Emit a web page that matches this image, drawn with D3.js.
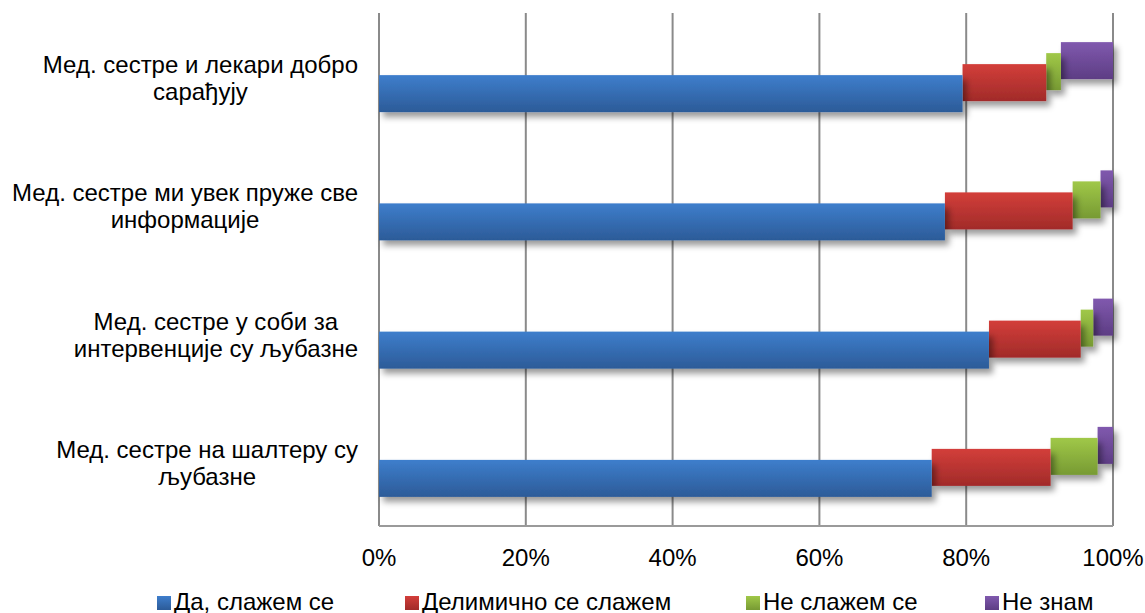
<!DOCTYPE html>
<html>
<head>
<meta charset="utf-8">
<script src="https://cdn.jsdelivr.net/npm/d3@7"></script>
<style>
  body { margin: 0; background: #fff; }
  text { font-family: "Liberation Sans", Arial, sans-serif; fill: #000; }
</style>
</head>
<body>
<script>
// categories, top to bottom (each label split into its lines)
var categories = [
  ["Мед. сестре и лекари добро", "сарађују"],
  ["Мед. сестре ми увек пруже све", "информације"],
  ["Мед. сестре у соби за", "интервенције су љубазне"],
  ["Мед. сестре на шалтеру су", "љубазне"]
];
var seriesNames = ["Да, слажем се", "Делимично се слажем", "Не слажем се", "Не знам"];
// percentages per category, same order as categories
var agree    = [79.5, 77.1, 83.1, 75.3];
var partly   = [11.4, 17.4, 12.5, 16.2];
var disagree = [2.0, 3.8, 1.7, 6.4];
var dontKnow = [7.1, 1.7, 2.7, 2.1];
var tickValues = [0, 20, 40, 60, 80, 100];

var width = 1145, height = 613;
var plotLeft = 379, plotRight = 1113, plotTop = 13, plotBottom = 526;
var depth = 11; // each series sits a little further back
var fontSize = "24px";

var colors = [
  ["#3e7ecc", "#2c5b98"],
  ["#d33e3a", "#a12b29"],
  ["#a0c848", "#779a33"],
  ["#8059ae", "#5d3d84"]
];

var svg = d3.select("body").append("svg")
  .attr("width", width)
  .attr("height", height);

var defs = svg.append("defs");
colors.forEach(function (c, i) {
  var g = defs.append("linearGradient")
    .attr("id", "grad" + i)
    .attr("x1", 0).attr("y1", 0).attr("x2", 0).attr("y2", 1);
  g.append("stop").attr("offset", "0%").attr("stop-color", c[0]);
  g.append("stop").attr("offset", "100%").attr("stop-color", c[1]);
});
defs.append("filter").attr("id", "shadow")
  .attr("x", "-10%").attr("y", "-30%").attr("width", "130%").attr("height", "180%")
  .append("feDropShadow")
  .attr("dx", 4).attr("dy", 5).attr("stdDeviation", 3)
  .attr("flood-color", "#000").attr("flood-opacity", 0.4);

var x = d3.scaleLinear().domain([0, 100]).range([plotLeft, plotRight]);
var y = d3.scaleBand().domain(d3.range(categories.length)).range([plotTop, plotBottom]);

// gridlines
svg.append("g").selectAll("line")
  .data(tickValues)
  .enter().append("line")
  .attr("x1", function (d) { return x(d); })
  .attr("x2", function (d) { return x(d); })
  .attr("y1", plotTop).attr("y2", plotBottom)
  .attr("stroke", "#8a8a8a").attr("stroke-width", 2);

svg.append("line")
  .attr("x1", x(0)).attr("x2", x(100))
  .attr("y1", plotBottom).attr("y2", plotBottom)
  .attr("stroke", "#9a9a9a").attr("stroke-width", 2);

// tick labels
svg.append("g").selectAll("text")
  .data(tickValues)
  .enter().append("text")
  .attr("x", function (d) { return x(d); })
  .attr("y", 566)
  .attr("text-anchor", "middle")
  .style("font-size", fontSize)
  .text(function (d) { return d + "%"; });

// stacked data
var rows = categories.map(function (c, i) {
  return { agree: agree[i], partly: partly[i], disagree: disagree[i], dontKnow: dontKnow[i] };
});
var stack = d3.stack().keys(["agree", "partly", "disagree", "dontKnow"])(rows);

var barH = 37;
// draw back series first
for (var s = stack.length - 1; s >= 0; s--) {
  svg.append("g")
    .attr("filter", "url(#shadow)")
    .selectAll("rect")
    .data(stack[s])
    .enter().append("rect")
    .attr("x", function (d) { return x(d[0]); })
    .attr("width", function (d) { return x(d[1]) - x(d[0]); })
    .attr("y", function (d, i) { return y(i) + y.bandwidth() / 2 + 16.5 - depth * s - barH / 2; })
    .attr("height", barH)
    .attr("fill", "url(#grad" + s + ")");
}

// category labels
var labels = svg.append("g").selectAll("g")
  .data(categories)
  .enter().append("g");
labels.each(function (lines, i) {
  var g = d3.select(this);
  var t = g.selectAll("text").data(lines).enter().append("text")
    .style("font-size", fontSize)
    .attr("text-anchor", "middle")
    .attr("y", function (d, j) { return y(i) + y.bandwidth() / 2 - 4 + j * 27; })
    .text(function (d) { return d; });
  var maxW = 0;
  t.each(function () { maxW = Math.max(maxW, this.getComputedTextLength()); });
  t.attr("x", 358 - maxW / 2);
});

// legend
var legendX = [157, 405, 746, 985];
var legend = svg.append("g").selectAll("g")
  .data(seriesNames)
  .enter().append("g")
  .attr("transform", function (d, i) { return "translate(" + legendX[i] + ",596)"; });
legend.append("rect")
  .attr("width", 14).attr("height", 14)
  .attr("fill", function (d, i) { return "url(#grad" + i + ")"; });
legend.append("text")
  .attr("x", 17).attr("y", 14)
  .style("font-size", fontSize)
  .text(function (d) { return d; });
</script>
</body>
</html>
